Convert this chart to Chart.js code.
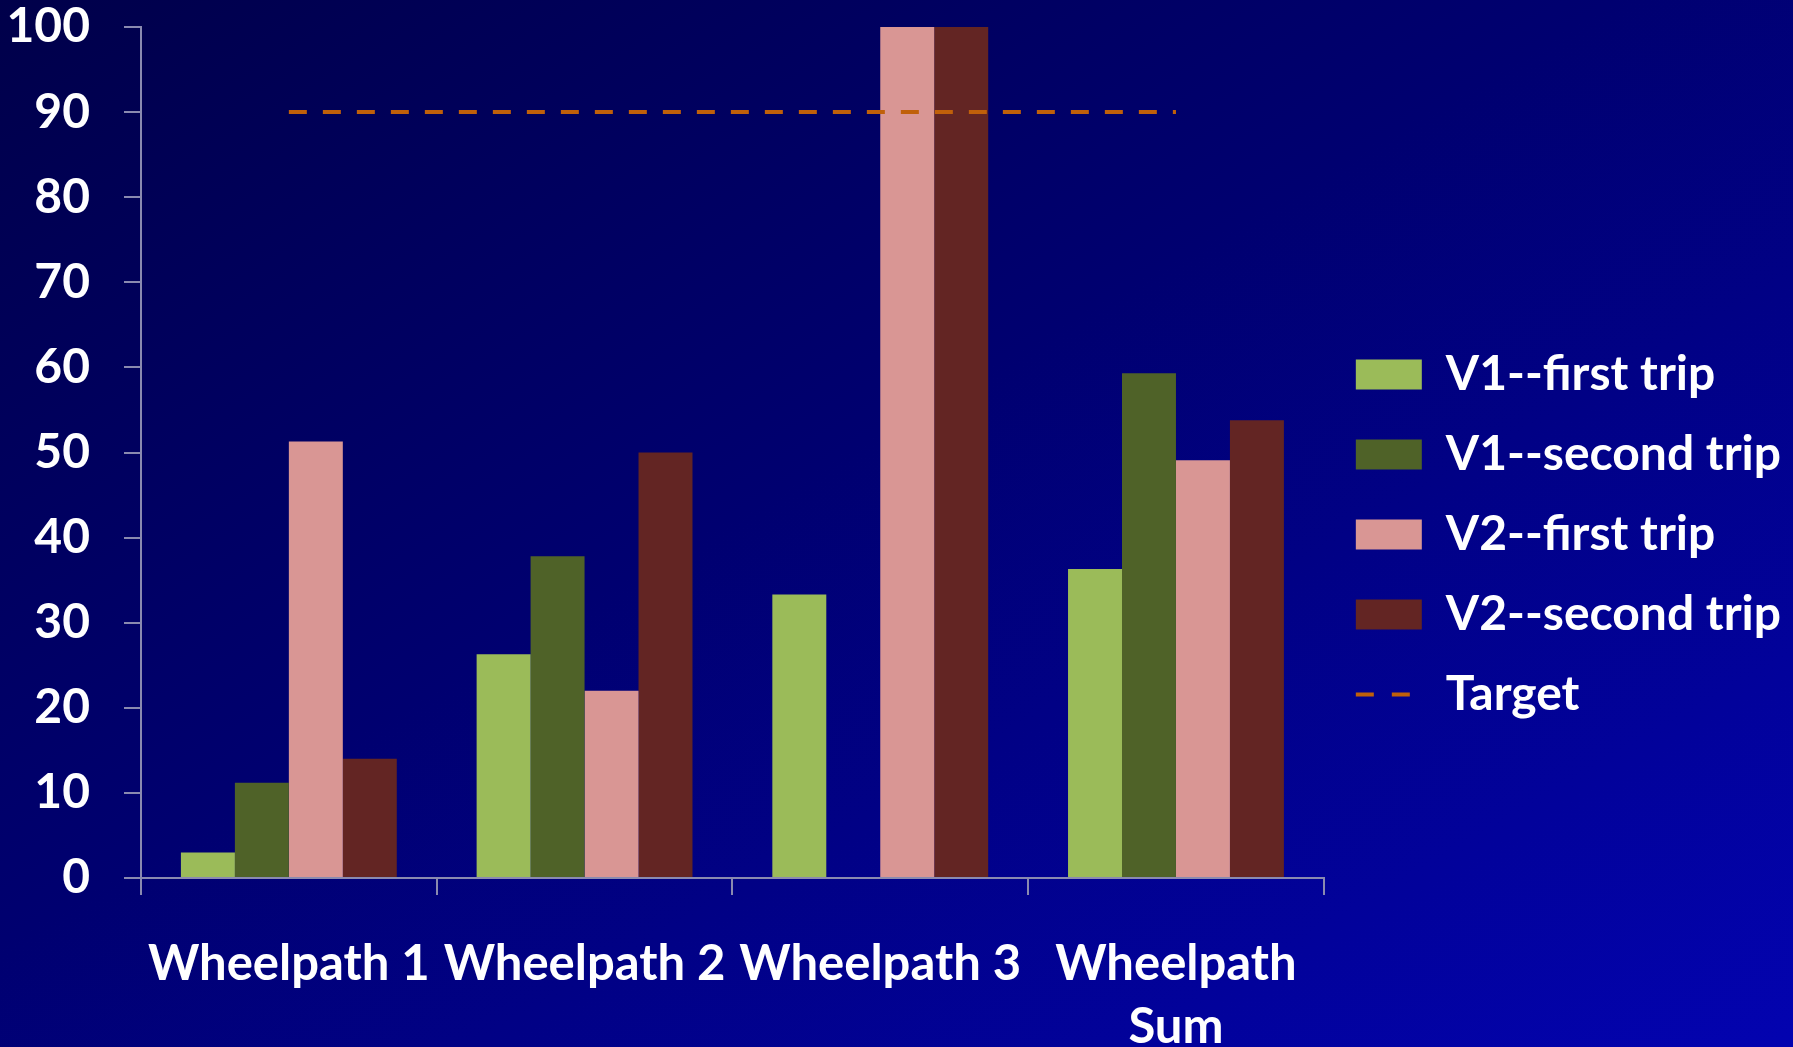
<!DOCTYPE html>
<html>
<head>
<meta charset="utf-8">
<script src="https://cdn.jsdelivr.net/npm/chart.js@4"></script>
<style>
  html, body { margin: 0; padding: 0; }
  body {
    width: 1793px; height: 1047px; overflow: hidden;
    background: linear-gradient(to bottom right, #00004a 0%, #000070 45%, #0303b0 100%);
  }
  #wrap { position: relative; width: 1793px; height: 1047px; }
</style>
</head>
<body>
<div id="wrap"><canvas id="chart"></canvas></div>
<script>
// Categorias e valores
const categories = ['Wheelpath 1', 'Wheelpath 2', 'Wheelpath 3', ['Wheelpath', 'Sum']];
const v1First = [3, 26.3, 33.3, 36.3];
const v1Second = [11.2, 37.8, 0, 59.3];
const v2First = [51.3, 22, 100, 49.1];
const v2Second = [14, 50, 100, 53.8];
const target = [90, 90, 90, 90];
const yTicks = [0, 10, 20, 30, 40, 50, 60, 70, 80, 90, 100];

const axisColor = '#8a8ab0';
const fontFamily = 'Lato, "Open Sans", sans-serif';

// margem esquerda negativa: o eixo y fica mais largo e a legenda ganha espaço
const leftShift = 300;

const ctx = document.getElementById('chart').getContext('2d');
new Chart(ctx, {
    type: 'bar',
    data: {
        labels: categories,
        datasets: [
            { label: 'V1--first trip', data: v1First, backgroundColor: '#9bbb59', order: 2 },
            { label: 'V1--second trip', data: v1Second, backgroundColor: '#4f6228', order: 2 },
            { label: 'V2--first trip', data: v2First, backgroundColor: '#d99694', order: 2 },
            { label: 'V2--second trip', data: v2Second, backgroundColor: '#632523', order: 2 },
            {
                type: 'line', label: 'Target', data: target,
                borderColor: '#c0600a', backgroundColor: '#c0600a',
                borderWidth: 4, borderDash: [18, 16], pointRadius: 0, order: 1
            }
        ]
    },
    options: {
        responsive: true,
        maintainAspectRatio: false,
        animation: false,
        layout: { padding: { top: 22, left: -leftShift, right: 2, bottom: 0 } },
        datasets: {
            bar: { categoryPercentage: 0.73, barPercentage: 1.0, borderWidth: 0 }
        },
        scales: {
            x: {
                afterFit: (axis) => { axis.height = 169; },
                grid: { drawOnChartArea: false, drawTicks: true, tickLength: 17, color: axisColor, lineWidth: 2 },
                border: { color: axisColor, width: 2 },
                ticks: {
                    color: '#ffffff', autoSkip: false, maxRotation: 0, minRotation: 0, padding: 37,
                    font: { family: fontFamily, size: 49, weight: 'bold', lineHeight: 1.3 }
                }
            },
            y: {
                min: 0, max: 100,
                afterFit: (axis) => {
                    axis.width = 141 + leftShift;
                    axis.paddingTop = 27;
                    axis.paddingBottom = 27;
                },
                afterBuildTicks: (axis) => { axis.ticks = yTicks.map(v => ({ value: v })); },
                grid: { drawOnChartArea: false, drawTicks: true, tickLength: 17, color: axisColor, lineWidth: 2 },
                border: { color: axisColor, width: 2 },
                ticks: {
                    color: '#ffffff', padding: 34,
                    font: { family: fontFamily, size: 48, weight: 'bold' }
                }
            }
        },
        plugins: {
            tooltip: { enabled: false },
            legend: {
                display: true,
                position: 'right',
                labels: {
                    color: '#ffffff',
                    usePointStyle: true,
                    pointStyleWidth: 66,
                    boxHeight: 30,
                    padding: 32,
                    font: { family: fontFamily, size: 48, weight: 'bold' },
                    sort: (a, b) => a.datasetIndex - b.datasetIndex,
                    generateLabels: (chart) => {
                        const items = Chart.defaults.plugins.legend.labels.generateLabels(chart);
                        items.forEach((it) => {
                            if (it.datasetIndex < 4) {
                                it.pointStyle = 'rect';
                                it.lineWidth = 0;
                            } else {
                                it.pointStyle = 'line';
                                it.lineWidth = 4;
                                it.lineDash = [18, 18];
                                it.strokeStyle = '#c0600a';
                            }
                            it.fontColor = '#ffffff';
                        });
                        return items;
                    }
                }
            }
        }
    }
});
</script>
</body>
</html>
